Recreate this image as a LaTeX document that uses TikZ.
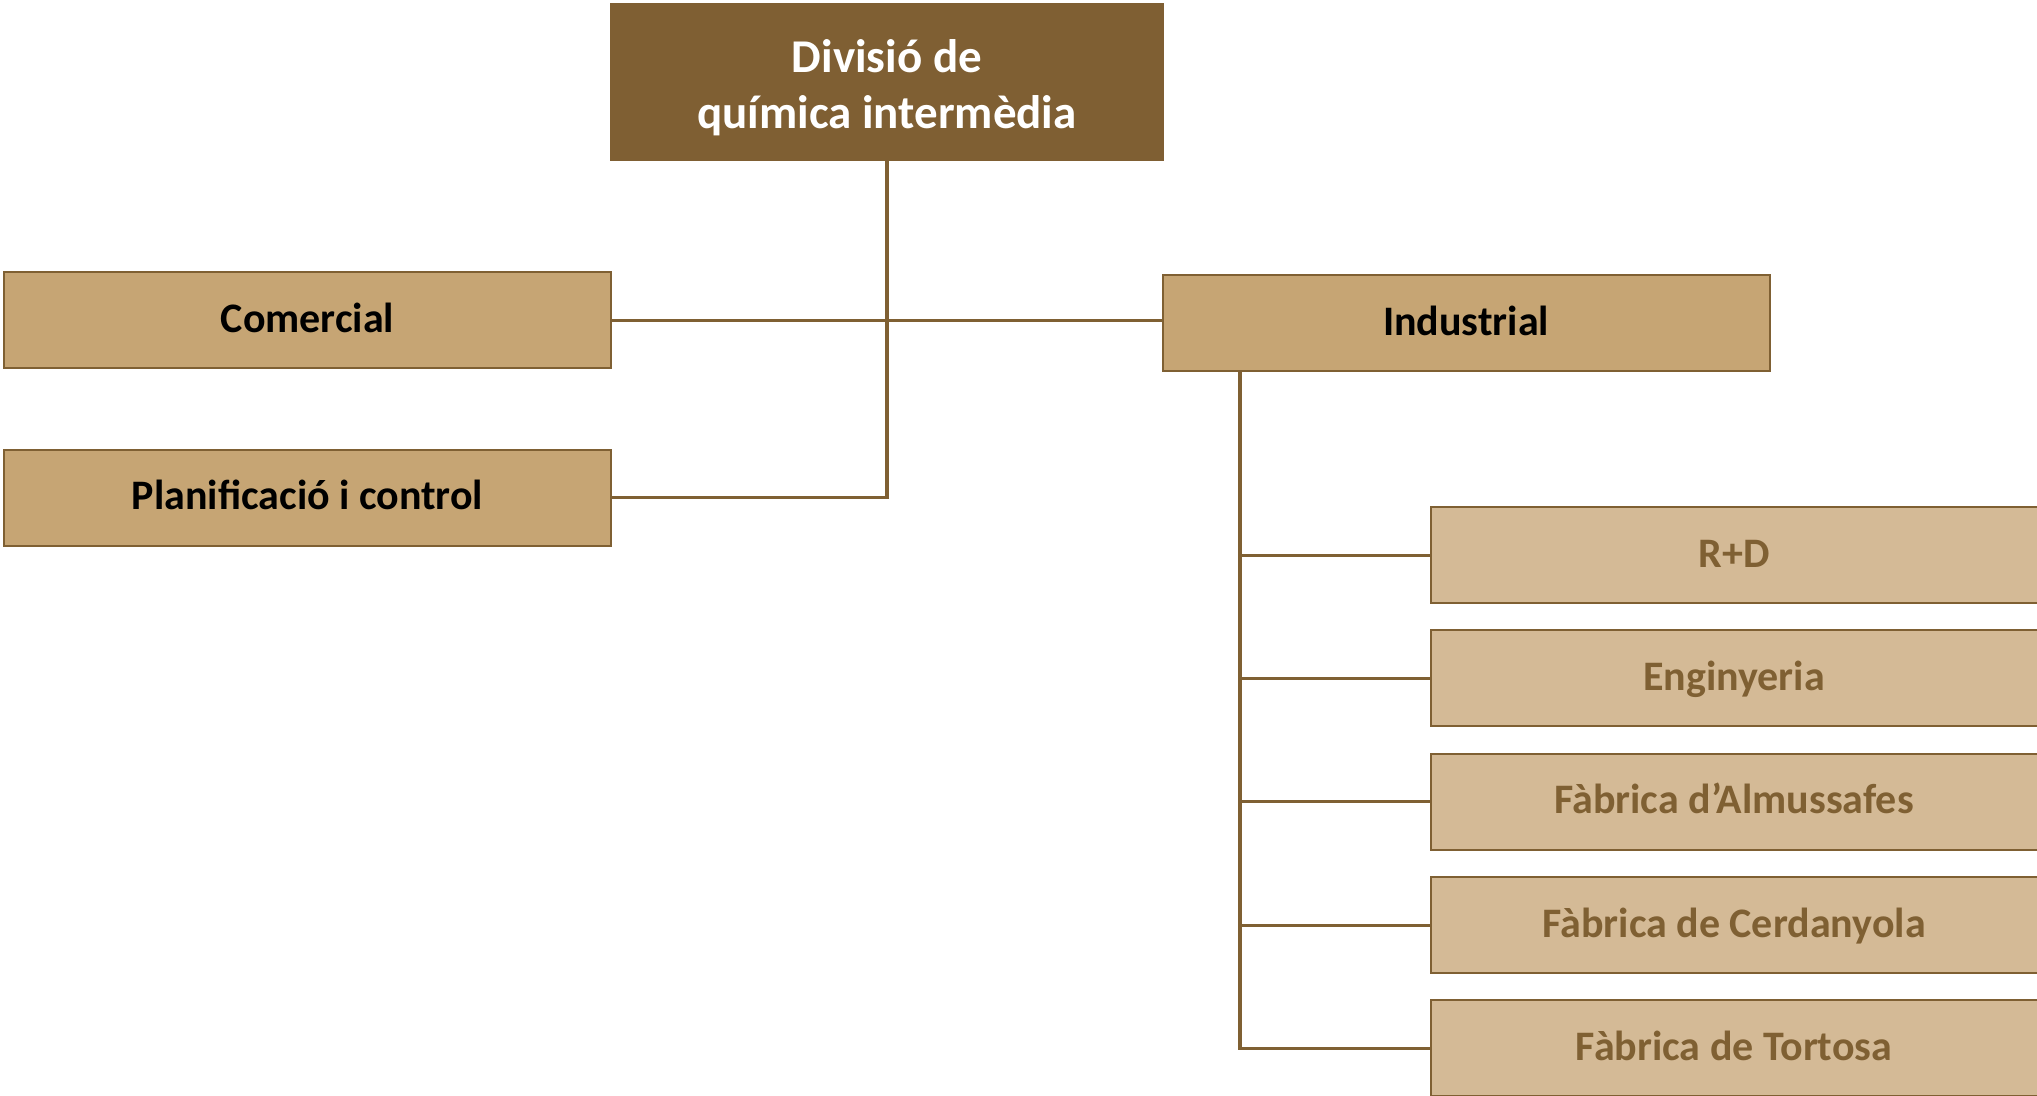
\documentclass[tikz,border=0pt]{standalone}
\usepackage{fontspec}
\setmainfont{Carlito}
\definecolor{topbrown}{HTML}{7F5F33}
\definecolor{linebrown}{HTML}{7F6033}
\definecolor{midtan}{HTML}{C6A574}
\definecolor{lighttan}{HTML}{D4BA96}
\begin{document}
\begin{tikzpicture}[x=1pt,y=-1pt,
  box/.style={draw=linebrown, line width=2pt, rectangle, inner sep=0pt, align=center},
  topbox/.style={box, fill=topbrown, draw=topbrown, text=white,
    font=\fontsize{47}{56}\selectfont\bfseries, minimum width=552pt, minimum height=156pt},
  midbox/.style={box, fill=midtan, text=black,
    font=\fontsize{42}{50}\selectfont\bfseries, minimum width=607pt, minimum height=96pt,
    text height=30pt, text depth=6pt},
  subbox/.style={box, fill=lighttan, text=linebrown,
    font=\fontsize{42}{50}\selectfont\bfseries, minimum width=620pt, minimum height=96pt,
    text height=30pt, text depth=6pt},
  vconn/.style={draw=linebrown, line width=4pt},
  hconn/.style={draw=linebrown, line width=3pt}]
\clip (0,0) rectangle (2037,1095);
\fill[white] (0,0) rectangle (2037,1095);
% nodes
\node[topbox] (top) at (887,82) {\rule{0pt}{45pt}Divisió de\\química intermèdia};
\node[midbox] (com) at (307.5,320) {Comercial};
\node[midbox] (plan) at (307.5,497.5) {Planificació i control};
\node[midbox] (ind) at (1466,323) {Industrial};
\node[subbox] (rd) at (1741,555) {\hspace*{-14pt}R+D};
\node[subbox] (eng) at (1741,678) {\hspace*{-14pt}Enginyeria};
\node[subbox] (alm) at (1741,801.5) {\hspace*{-14pt}Fàbrica d’Almussafes};
\node[subbox] (cer) at (1741,925) {\hspace*{-14pt}Fàbrica de Cerdanyola};
\node[subbox] (tor) at (1741,1048) {\hspace*{-14pt}Fàbrica de Tortosa};
% connectors
\draw[vconn] (top.south) -- (top.south |- plan.east);
\draw[hconn] ([xshift=2pt]top.south |- plan.east) -- (plan.east);
\draw[hconn] (com.east) -- (com.east -| ind.west);
\coordinate (bus) at (1240,372);
\draw[vconn] (bus) -- (bus |- tor.west);
\draw[hconn] ([xshift=-2pt]bus |- tor.west) -- (tor.west);
\draw[hconn] (bus |- rd.west) -- (rd.west);
\draw[hconn] (bus |- eng.west) -- (eng.west);
\draw[hconn] (bus |- alm.west) -- (alm.west);
\draw[hconn] (bus |- cer.west) -- (cer.west);
\end{tikzpicture}
\end{document}
